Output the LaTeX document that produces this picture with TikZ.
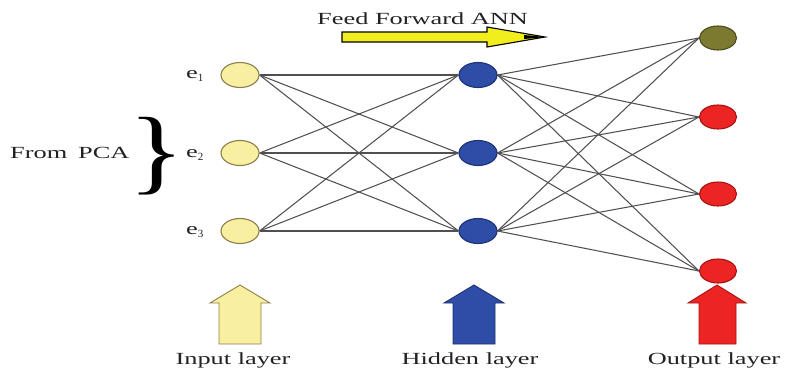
\documentclass[tikz,border=0pt]{standalone}
\usepackage{graphicx}
\usepackage{fontspec}
\setmainfont{Liberation Serif}
\usetikzlibrary{shapes.geometric}

\definecolor{inpfill}{HTML}{F8EFA0}
\definecolor{inpdraw}{HTML}{8A7E50}
\definecolor{hidfill}{HTML}{2E4DA6}
\definecolor{hiddraw}{HTML}{1C3274}
\definecolor{olvfill}{HTML}{7C7A30}
\definecolor{olvdraw}{HTML}{4E4C1C}
\definecolor{redfill}{HTML}{EC2424}
\definecolor{reddraw}{HTML}{A81414}
\definecolor{wire}{HTML}{505050}
\definecolor{ink}{HTML}{222222}
\definecolor{ffyellow}{HTML}{F2EE1E}

\pgfdeclarelayer{background}
\pgfsetlayers{background,main}

\newcommand{\wide}[1]{\scalebox{1.55}[1]{#1}}

\tikzset{
  neuron/.style={ellipse, inner sep=0pt, minimum width=38pt, minimum height=25pt, line width=1.1pt},
  inneuron/.style={neuron, fill=inpfill, draw=inpdraw},
  hidneuron/.style={neuron, fill=hidfill, draw=hiddraw},
  outneuron/.style={neuron, fill=redfill, draw=reddraw, minimum width=37pt, minimum height=24pt},
  olvneuron/.style={outneuron, fill=olvfill, draw=olvdraw},
  link/.style={draw=wire, line width=1.05pt},
  lbl/.style={font=\fontsize{17}{20}\selectfont, text=ink, inner sep=0pt},
  uparrow/.style={line width=0.9pt}
}

\begin{document}
\begin{tikzpicture}[x=1pt, y=-1pt]
\useasboundingbox (0,0) rectangle (787,370);

% title and flow arrow
\node[lbl, anchor=base west] (title) at (317,24) {\wide{Feed Forward ANN}};
\draw[fill=ffyellow, draw=black, line width=1.1pt]
  (342,32) -- (487,32) -- (487,27) -- (545,37) -- (487,47) -- (487,42) -- (342,42) -- cycle;
\fill[black] (524,35) -- (546,37) -- (524,39) -- cycle;

% neurons
\foreach \i/\y in {1/75, 2/153, 3/231} {
  \node[inneuron] (i\i) at (240,\y) {};
  \node[hidneuron] (h\i) at (478,\y) {};
}
\node[olvneuron] (o1) at (718,38) {};
\node[outneuron] (o2) at (718,117) {};
\node[outneuron] (o3) at (718,194) {};
\node[outneuron] (o4) at (718,271) {};

% connections, kept behind the neurons
\begin{pgfonlayer}{background}
\foreach \a in {1,2,3} {
  \foreach \b in {1,2,3} {
    \draw[link] (i\a.east) -- (h\b.west);
  }
  \foreach \c in {1,2,3,4} {
    \draw[link] (h\a.east) -- (o\c.west);
  }
}
\end{pgfonlayer}

% input labels
\node[lbl, anchor=base west] (e1) at (186,78) {\wide{e}\raisebox{-3pt}{\fontsize{11}{12}\selectfont 1}};
\node[lbl, anchor=base west] (e2) at (186,157) {\wide{e}\raisebox{-3pt}{\fontsize{11}{12}\selectfont 2}};
\node[lbl, anchor=base west] (e3) at (186,234) {\wide{e}\raisebox{-3pt}{\fontsize{11}{12}\selectfont 3}};

% source brace
\node[inner sep=0pt, font=\fontsize{94}{94}\selectfont, text=black] (brace) at (157,156) {\scalebox{1.25}[1]{\}}};
\node[lbl, anchor=base west] (pca) at (10,158) {\wide{From\hspace{7pt}PCA}};

% layer arrows
\draw[uparrow, fill=inpfill, draw=inpdraw]
  (219,344) -- (219,303) -- (210,303) -- (240,285) -- (270,303) -- (261,303) -- (261,344) -- cycle;
\draw[uparrow, fill=hidfill, draw=hiddraw]
  (453,344) -- (453,303) -- (444,303) -- (474,285) -- (504,303) -- (495,303) -- (495,344) -- cycle;
\draw[uparrow, fill=redfill, draw=reddraw]
  (699,344) -- (699,303) -- (688,303) -- (717,285) -- (746,303) -- (736,303) -- (736,344) -- cycle;

% layer names
\node[lbl, anchor=base] (lin) at (233,364) {\wide{Input layer}};
\node[lbl, anchor=base] (lhid) at (470,364) {\wide{Hidden layer}};
\node[lbl, anchor=base] (lout) at (714,364) {\wide{Output layer}};
\end{tikzpicture}
\end{document}
